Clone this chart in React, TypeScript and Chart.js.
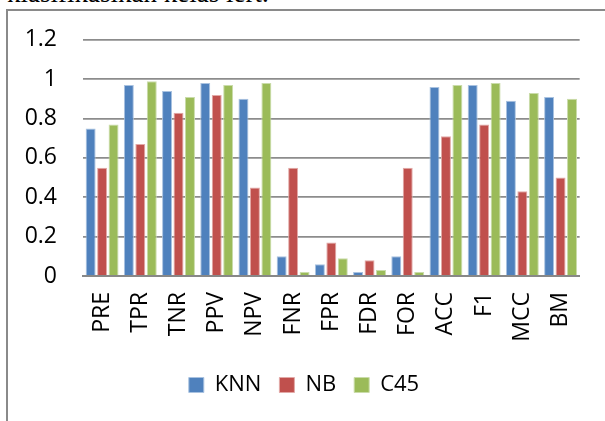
import React, { useEffect, useRef } from "react";
import { Chart, registerables } from "chart.js";

Chart.register(...registerables);

const categories = ["PRE", "TPR", "TNR", "PPV", "NPV", "FNR", "FPR", "FDR", "FOR", "ACC", "F1", "MCC", "BM"];
const knnValues = [0.75, 0.97, 0.94, 0.98, 0.9, 0.1, 0.06, 0.02, 0.1, 0.96, 0.97, 0.89, 0.91];
const nbValues = [0.55, 0.67, 0.83, 0.92, 0.45, 0.55, 0.17, 0.08, 0.55, 0.71, 0.77, 0.43, 0.5];
const c45Values = [0.77, 0.99, 0.91, 0.97, 0.98, 0.02, 0.09, 0.03, 0.02, 0.97, 0.98, 0.93, 0.9];
const seriesNames = ["KNN", "NB", "C45"];
const yTicks = [0, 0.2, 0.4, 0.6, 0.8, 1, 1.2];

const FONT = "'Open Sans', 'DejaVu Sans', sans-serif";

export default function App() {
  const canvasRef = useRef<HTMLCanvasElement | null>(null);

  useEffect(() => {
    document.body.style.margin = "0";
    const canvas = canvasRef.current;
    if (!canvas) return;
    const chart = new Chart(canvas, {
      type: "bar",
      data: {
        labels: categories,
        datasets: [
          { label: seriesNames[0], data: knnValues, backgroundColor: "#4F81BD", borderColor: "#a9c2e0", borderWidth: 1 },
          { label: seriesNames[1], data: nbValues, backgroundColor: "#C0504D", borderColor: "#e2a9a7", borderWidth: 1 },
          { label: seriesNames[2], data: c45Values, backgroundColor: "#9BBB59", borderColor: "#cadcaa", borderWidth: 1 },
        ],
      },
      options: {
        responsive: false,
        animation: false,
        devicePixelRatio: 1,
        layout: { padding: { left: 25, right: 22, top: 39, bottom: 15 } },
        datasets: { bar: { categoryPercentage: 0.9, barPercentage: 0.87 } },
        scales: {
          x: {
            grid: { display: false, drawTicks: false },
            border: { display: true, color: "#888888", width: 2 },
            ticks: {
              color: "#000",
              font: { family: FONT, size: 23 },
              maxRotation: 90,
              minRotation: 90,
              padding: 16,
              autoSkip: false,
            },
            afterFit: (scale: any) => {
              scale.height = 80;
            },
          },
          y: {
            min: 0,
            max: 1.2,
            afterBuildTicks: (scale: any) => {
              scale.ticks = yTicks.map((v) => ({ value: v }));
            },
            grid: { color: "#8c8c8c", lineWidth: 1.8, drawTicks: false },
            border: { display: false },
            ticks: {
              color: "#000",
              font: { family: FONT, size: 23 },
              padding: 26,
              callback: (v: any) => String(Math.round(Number(v) * 10) / 10),
            },
            afterFit: (scale: any) => {
              scale.width = 58;
            },
          },
        },
        plugins: {
          legend: {
            position: "bottom",
            labels: {
              color: "#000",
              font: { family: FONT, size: 22 },
              boxWidth: 15,
              boxHeight: 15,
              padding: 18,
              useBorderRadius: false,
            },
          },
          tooltip: { enabled: false },
        },
      },
    });
    return () => chart.destroy();
  }, []);

  return (
    <div style={{ position: "fixed", left: 0, top: 0, width: 605, height: 421, overflow: "hidden", background: "#fff" }}>
      <div
        style={{
          position: "absolute",
          left: 7,
          top: -20.5,
          fontFamily: "'Liberation Serif', serif",
          fontSize: 27,
          lineHeight: 1,
          whiteSpace: "nowrap",
          color: "#000",
        }}
      >
        klasifikasikan kelas lert.
      </div>
      <div
        style={{
          position: "absolute",
          left: 6,
          top: 9,
          width: 700,
          height: 500,
          border: "2px solid #8a8a8a",
          boxSizing: "border-box",
        }}
      />
      <canvas ref={canvasRef} width={605} height={421} style={{ position: "absolute", left: 0, top: 0, width: 605, height: 421 }} />
    </div>
  );
}
